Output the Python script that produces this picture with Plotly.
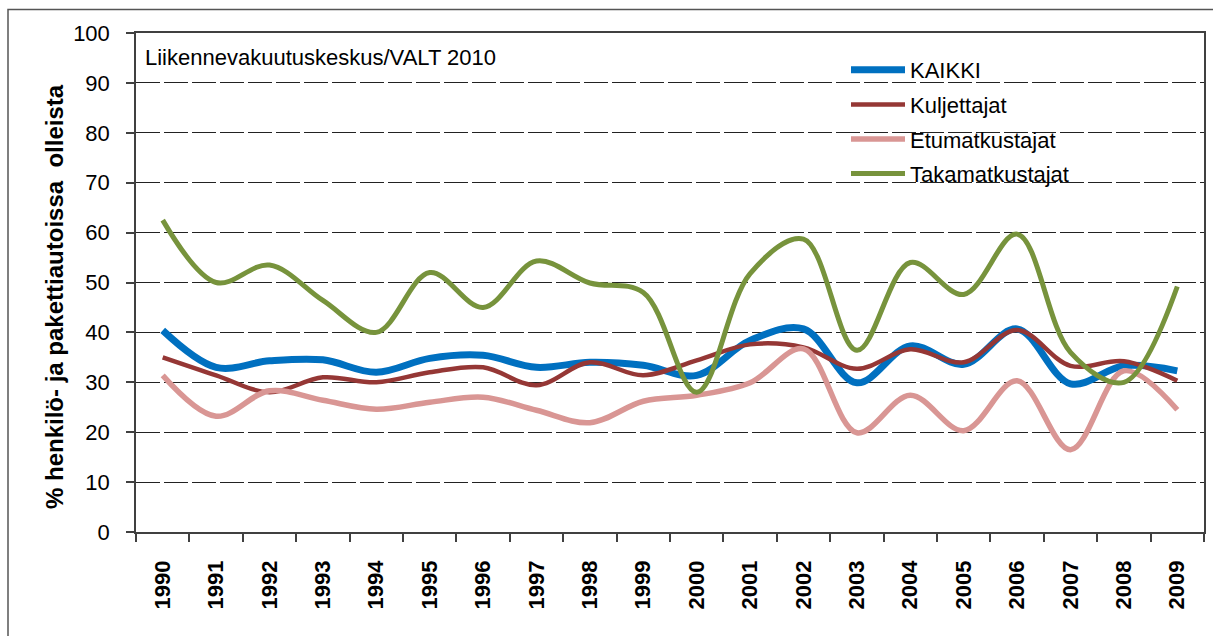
import plotly.graph_objects as go

years = [str(y) for y in range(1990, 2010)]
kaikki = [40.4, 33.0, 34.3, 34.5, 32.0, 34.8, 35.4, 33.0, 34.0, 33.4, 31.4, 38.4, 40.7, 29.9, 37.3, 33.6, 40.7, 29.7, 33.3, 32.3]
kuljettajat = [35.0, 31.4, 28.0, 31.0, 30.0, 32.0, 33.0, 29.4, 34.0, 31.4, 34.4, 37.6, 37.0, 32.7, 36.6, 34.0, 40.5, 33.3, 34.2, 30.3]
etumatkustajat = [31.4, 23.2, 28.3, 26.4, 24.6, 26.0, 27.0, 24.4, 21.9, 26.2, 27.4, 29.9, 36.7, 19.9, 27.4, 20.3, 30.3, 16.5, 32.3, 24.5]
takamatkustajat = [62.5, 50.0, 53.5, 46.4, 40.0, 52.0, 45.0, 54.3, 49.9, 48.0, 28.0, 51.8, 58.7, 36.4, 54.0, 47.6, 59.7, 36.0, 30.0, 49.2]

series = [
    ("KAIKKI", kaikki, "#0070C0", 7),
    ("Kuljettajat", kuljettajat, "#953735", 4.5),
    ("Etumatkustajat", etumatkustajat, "#D99694", 5.5),
    ("Takamatkustajat", takamatkustajat, "#77933C", 5),
]

FONT = "Liberation Sans, Arial, sans-serif"

fig = go.Figure()
for i, (name, vals, color, w) in enumerate(series):
    fig.add_trace(go.Scatter(
        x=years, y=vals, name=name, mode="lines",
        line=dict(color=color, width=w, shape="spline", smoothing=1.0),
        legendgroup=f"g{i}",
    ))

W, H = 1213, 636
L, R, T, B = 136, 9, 33, 104
pw, ph = W - L - R, H - T - B

def px_x(p):
    return (p - L) / pw

def px_y(p):
    return (H - B - p) / ph

fig.update_layout(
    width=W, height=H,
    margin=dict(l=L, r=R, t=T, b=B, autoexpand=False),
    paper_bgcolor="white", plot_bgcolor="white",
    font=dict(family=FONT, color="black", size=22),
    showlegend=True,
    legend=dict(
        x=px_x(846), y=px_y(49), xanchor="left", yanchor="top",
        bgcolor="rgba(0,0,0,0)", font=dict(size=22, family=FONT),
        tracegroupgap=3, itemwidth=54,
    ),
    xaxis=dict(
        type="category", range=[-0.5, len(years) - 0.5],
        showgrid=False, zeroline=False, automargin=False,
        showline=True, linecolor="#404040", linewidth=1.5, mirror=True,
        ticks="outside", ticklen=8, tickcolor="#404040", tickwidth=1.5,
        tickson="boundaries", tickangle=-90,
        tickfont=dict(size=22, family=FONT, weight="bold"),
        ticklabelstandoff=18,
    ),
    yaxis=dict(
        range=[0, 100], dtick=10, tick0=0, automargin=False,
        showgrid=True, gridcolor="#222222", gridwidth=1.3, griddash="24px,4px",
        zeroline=False,
        showline=True, linecolor="#404040", linewidth=1.5, mirror=True,
        ticks="outside", ticklen=8, tickcolor="#404040", tickwidth=1.5,
        tickfont=dict(size=22, family=FONT),
        ticklabelstandoff=12,
    ),
    annotations=[
        dict(
            text="Liikennevakuutuskeskus/VALT 2010", xref="paper", yref="paper",
            x=px_x(143), y=px_y(57), xanchor="left", yanchor="middle",
            showarrow=False, font=dict(size=22, family=FONT, color="black"),
        ),
        dict(
            text="% henkilö- ja pakettiautoissa  olleista", xref="paper", yref="paper",
            x=px_x(54), y=px_y(297), xanchor="center", yanchor="middle",
            textangle=-90, showarrow=False,
            font=dict(size=24, family=FONT, color="black", weight="bold"),
        ),
    ],
    shapes=[
        dict(type="rect", xref="paper", yref="paper", layer="between",
             x0=px_x(768), x1=px_x(1163), y0=px_y(200), y1=px_y(45),
             fillcolor="white", line=dict(width=0)),
        dict(type="rect", xref="paper", yref="paper", layer="above",
             x0=px_x(8), x1=px_x(1230), y0=px_y(660), y1=px_y(9.5),
             fillcolor="rgba(0,0,0,0)", line=dict(color="#555555", width=1.5)),
    ],
)

fig.write_html(
    "out.html",
    config={"displayModeBar": False},
    post_script="document.body.style.margin='0';document.body.style.padding='0';"
                "document.body.style.overflow='hidden';"
                "document.documentElement.style.overflow='hidden';",
)
